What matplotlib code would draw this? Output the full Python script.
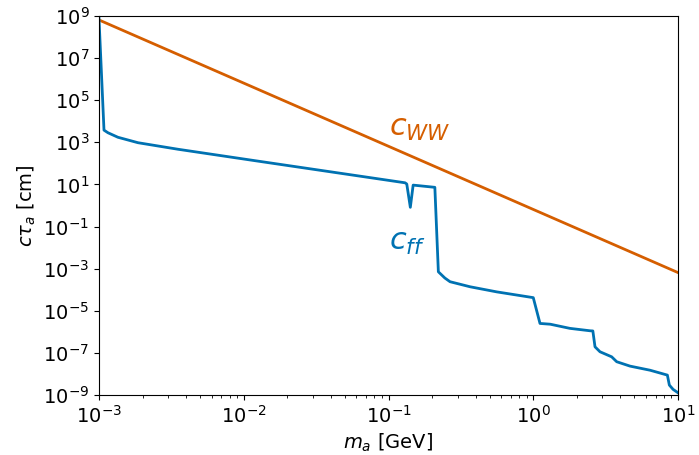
import numpy as np
import matplotlib
matplotlib.use("Agg")
from matplotlib import pyplot as plt
from matplotlib.ticker import LogLocator, NullLocator

# axion mass [GeV] and decay length [cm]
m_ww = [1e-3, 1e-2, 1e-1, 1e0, 1e1]
ctau_ww = [6.5e8, 6.5e5, 6.5e2, 6.5e-1, 6.5e-4]

m_ff = [1.0e-3, 1.083e-3, 1.153e-3, 1.352e-3, 1.86e-3, 3.51e-3, 1.2e-2, 0.130,
        0.1337, 0.1415, 0.148, 0.209, 0.221, 0.245, 0.266, 0.366, 0.559, 1.0,
        1.113, 1.31, 1.79, 2.47, 2.58, 2.67, 2.89, 3.48, 3.77, 4.66, 6.41,
        8.44, 8.71, 9.24, 10.0]
ctau_ff = [8e8, 3.8e3, 2.86e3, 1.74e3, 9.6e2, 4.7e2, 134, 12.0,
           10.5, 0.82, 9.3, 7.3, 7.1e-4, 3.6e-4, 2.4e-4, 1.38e-4, 7.9e-5, 4.2e-5,
           2.5e-6, 2.3e-6, 1.46e-6, 1.12e-6, 1.1e-6, 1.94e-7, 1.13e-7, 6.5e-8,
           3.8e-8, 2.35e-8, 1.5e-8, 8.8e-9, 2.96e-9, 1.85e-9, 1.27e-9]

yticks = [1e-9, 1e-7, 1e-5, 1e-3, 1e-1, 1e1, 1e3, 1e5, 1e7, 1e9]

orange = "#d55e00"
blue = "#0072b2"

fig = plt.figure(figsize=(6.99, 4.55), dpi=100)
ax = fig.add_axes([0.1416, 0.1319, 0.8284, 0.8329])

ax.plot(m_ww, ctau_ww, color=orange, lw=2)
ax.plot(m_ff, ctau_ff, color=blue, lw=2)

ax.set_xscale("log")
ax.set_yscale("log")
ax.set_xlim(1e-3, 1e1)
ax.set_ylim(1e-9, 1e9)
ax.set_yticks(yticks)
ax.yaxis.set_minor_locator(NullLocator())
ax.xaxis.set_minor_locator(LogLocator(base=10, subs=np.arange(2, 10), numticks=20))
ax.tick_params(labelsize=14)

ax.set_xlabel(r"$m_a$ [GeV]", fontsize=14)
ax.set_ylabel(r"$c\tau_a$ [cm]", fontsize=14)

ax.text(0.1, 2e3, r"$c_{WW}$", color=orange, fontsize=22)
ax.text(0.1, 8e-3, r"$c_{ff}$", color=blue, fontsize=22)

fig.savefig("out.png", dpi=100)
